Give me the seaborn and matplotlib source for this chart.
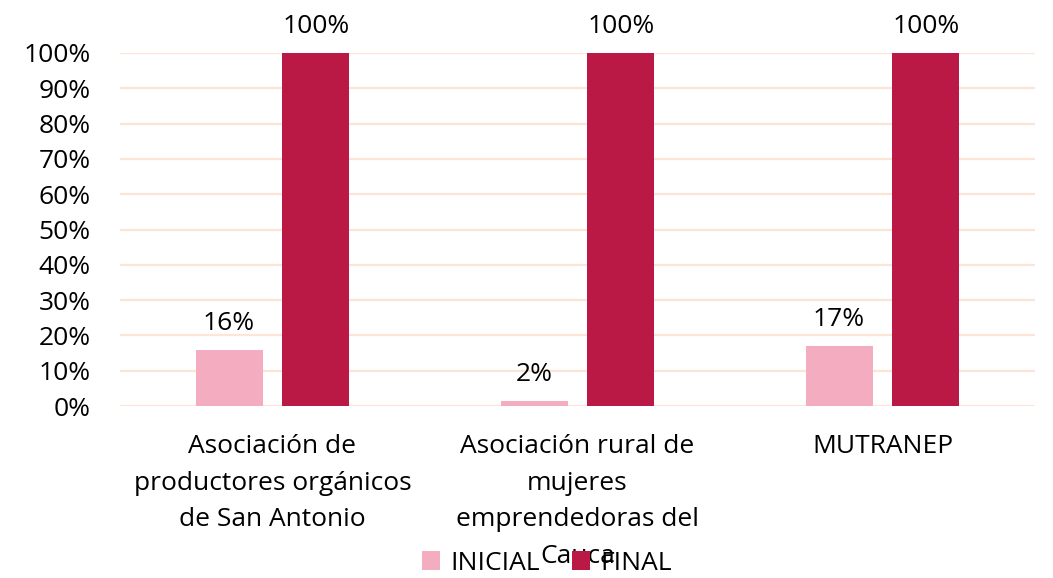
import pandas as pd
import matplotlib
matplotlib.use("Agg")
import matplotlib.pyplot as plt
import seaborn as sns

# Data
categories = [
    "Asociación de\nproductores orgánicos\nde San Antonio",
    "Asociación rural de\nmujeres\nemprendedoras del\nCauca",
    "MUTRANEP",
]
inicial = [0.16, 0.015, 0.17]
final = [1.00, 1.00, 1.00]
inicial_labels = ["16%", "2%", "17%"]
final_labels = ["100%", "100%", "100%"]
series = ["INICIAL", "FINAL"]
colors = ["#F4ADC0", "#BA1945"]

df = pd.DataFrame({
    "cat": categories * 2,
    "serie": [series[0]] * 3 + [series[1]] * 3,
    "valor": inicial + final,
})

sns.set_theme(style="white")
plt.rcParams["font.family"] = ["Open Sans", "DejaVu Sans"]

fig = plt.figure(figsize=(10.53, 5.78), dpi=100)
ax = fig.add_axes([120 / 1053, 1 - 406 / 578, (1035 - 120) / 1053, (406 - 53) / 578])

sns.barplot(data=df, x="cat", y="valor", hue="serie", palette=colors,
            saturation=1, width=0.57, gap=0.23, linewidth=0,
            ax=ax, legend=True, zorder=3)

ax.set_ylim(0, 1)
ax.set_xlim(-0.5, 2.5)
ax.set_yticks([i / 10 for i in range(11)])
ax.set_yticklabels([f"{i * 10}%" for i in range(11)])
ax.yaxis.grid(True, color="#FCE4D6", linewidth=1.6, zorder=0)
ax.set_axisbelow(True)
for s in ax.spines.values():
    s.set_visible(False)
ax.set_xlabel("")
ax.set_ylabel("")
ax.tick_params(axis="y", labelsize=19, pad=21, length=0, colors="black")
ax.tick_params(axis="x", labelsize=19, pad=20, length=0, colors="black")
for t in ax.get_xticklabels():
    t.set_linespacing(1.62)

# value labels
for cont, labs in zip(ax.containers, [inicial_labels, final_labels]):
    ax.bar_label(cont, labels=labs, padding=10, fontsize=19, color="black", clip_on=False)

handles, lbls = ax.get_legend_handles_labels()
ax.legend(handles, lbls, loc="center", bbox_to_anchor=(547 / 1053, 1 - 563 / 578),
          bbox_transform=fig.transFigure, ncol=2, frameon=False, fontsize=19,
          labelcolor="black", handlelength=0.7, handleheight=0.7,
          handletextpad=0.4, columnspacing=1.2)

fig.savefig("out.png", dpi=100)
